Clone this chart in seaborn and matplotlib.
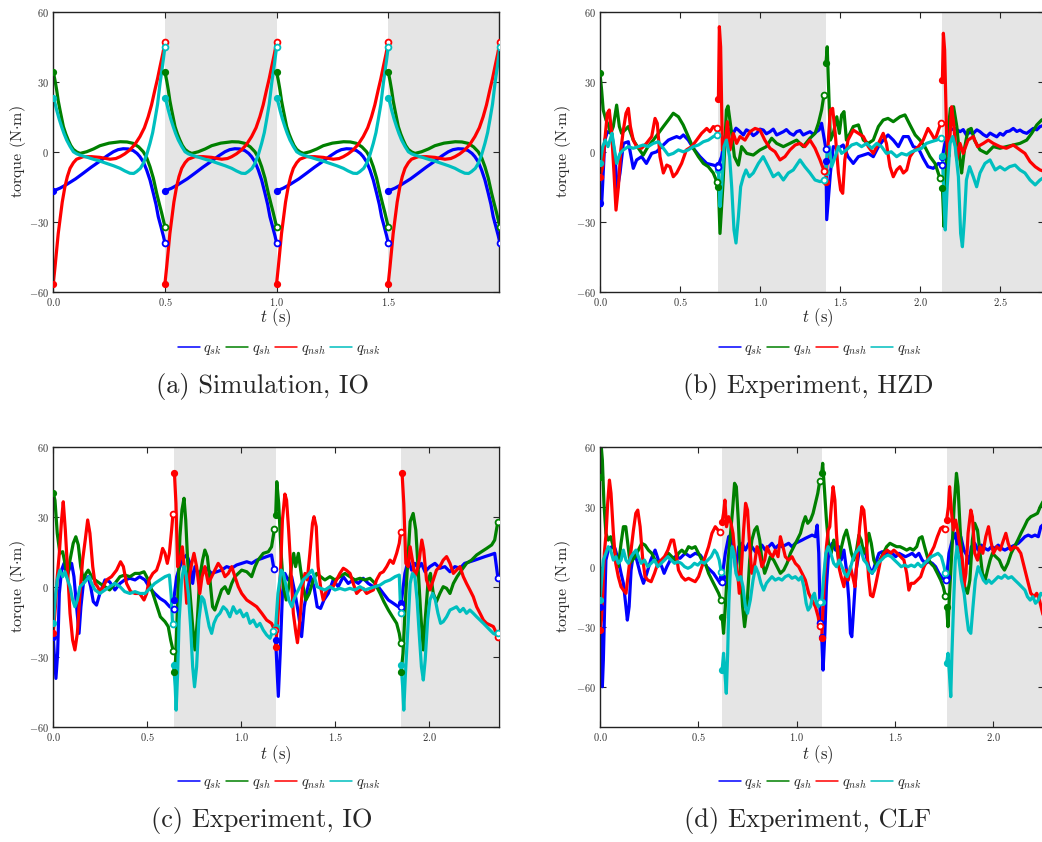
import matplotlib
matplotlib.use("Agg")
import matplotlib.pyplot as plt
from matplotlib.lines import Line2D
from matplotlib.ticker import FuncFormatter
import seaborn as sns
import pandas as pd

# joints, legend labels and colours
joints = ["sk", "sh", "nsh", "nsk"]
joint_labels = [r"$q_{sk}$", r"$q_{sh}$", r"$q_{nsh}$", r"$q_{nsk}$"]
joint_colors = ["#0000ff", "#008000", "#ff0000", "#00bfbf"]

captions = ["(a) Simulation, IO", "(b) Experiment, HZD", "(c) Experiment, IO", "(d) Experiment, CLF"]

# step boundaries (s) of every panel
a_bounds = [0.0, 0.5, 1.0, 1.5, 2.0]
b_bounds = [0.0, 0.74, 1.4125, 2.14, 2.78]
c_bounds = [0.0, 0.641, 1.184, 1.852, 2.367]
d_bounds = [0.0, 0.621, 1.127, 1.762, 2.26]

# (a) simulation: one step (t from step start, torque), repeated each step
a_sk = [(0, -16.7), (.03, -15.5), (.06, -13.9), (.1, -11.5), (.134, -9.1), (.17, -6.5), (.209, -3.9), (.24, -1.7),
        (.269, 0.1), (.29, 1.0), (.313, 1.4), (.336, 1.3), (.358, 0.6), (.375, -0.6), (.388, -2), (.403, -4.2),
        (.418, -7.7), (.433, -12), (.448, -17.7), (.46, -22.5), (.47, -27.7), (.482, -32), (.493, -36), (.5, -39)]
a_sh = [(0, 34.3), (.008, 30.5), (.015, 26.6), (.022, 22), (.03, 18), (.045, 10.9), (.056, 7.7), (.067, 5.1),
        (.078, 2.8), (.09, 1.1), (.105, 0.0), (.12, -0.6), (.149, 0.1), (.18, 1.3), (.209, 2.7), (.25, 3.8),
        (.3, 4.4), (.33, 4.3), (.358, 3.7), (.382, 2.2), (.403, 0.1), (.418, -2.4), (.433, -6.3), (.448, -11.2),
        (.463, -17.7), (.475, -22.3), (.485, -26), (.5, -32.1)]
a_nsh = [(0, -56.4), (.008, -49), (.015, -42), (.022, -35), (.03, -29), (.04, -21.5), (.052, -14.9), (.063, -10.5),
         (.075, -7), (.09, -4.6), (.104, -3.1), (.134, -2), (.17, -2.0), (.209, -2.3), (.254, -3.1), (.28, -2.8),
         (.299, -2), (.32, -0.8), (.343, 0.9), (.365, 3.2), (.388, 6.6), (.408, 10.4), (.425, 15.1), (.44, 20.2),
         (.455, 26.6), (.467, 31.5), (.478, 36.6), (.49, 42), (.5, 47.1)]
a_nsk = [(0, 23.3), (.008, 20.8), (.015, 18), (.026, 14.2), (.037, 10.9), (.048, 7.9), (.06, 5.1), (.075, 2.4),
         (.09, 0.1), (.105, -0.8), (.119, -1.3), (.15, -2.2), (.179, -3.1), (.209, -3.9), (.239, -4.9),
         (.27, -5.9), (.299, -7), (.32, -8.1), (.343, -9.1), (.36, -9.2), (.373, -8.4), (.39, -7.0), (.403, -4.9),
         (.418, -1.2), (.433, 3.7), (.445, 8.3), (.455, 13.7), (.467, 20.5), (.478, 29.4), (.49, 37.5), (.5, 45.1)]

# (b) experiment, HZD: one list of (t, torque) per step
b_sk = [
    [(0, -22), (.01, -23), (.03, 5), (.046, 8.7), (.073, 8), (.094, -2), (.108, -16), (.125, -9), (.146, 3.7),
     (.177, 4.4), (.208, -7), (.229, -3.4), (.26, -2), (.29, -4.9), (.323, -.6), (.354, .1), (.385, 2.3),
     (.427, 5.1), (.45, 5.8), (.479, 6.6), (.5, 6.0), (.521, 7.3), (.552, 5.1), (.583, 1.6), (.625, -2),
     (.667, -4.9), (.708, -5.6), (.74, -6.3)],
    [(.74, -5.6), (.76, -2), (.781, 6.6), (.802, 10.1), (.833, 8), (.85, 10.2), (.865, 9.4), (.896, 7.3),
     (.915, 9.5), (.9375, 8.7), (.958, 7.0), (.979, 8), (1.0, 9.8), (1.021, 9.4), (1.04, 7.8), (1.0625, 8.7),
     (1.083, 9.8), (1.104, 7.3), (1.125, 8.0), (1.146, 8.7), (1.165, 9.6), (1.1875, 8), (1.21, 7.2),
     (1.229, 8.7), (1.25, 9.2), (1.27, 7.3), (1.29, 8.0), (1.3125, 8.7), (1.333, 7.6), (1.354, 8.7),
     (1.37, 9.5), (1.385, 12.3), (1.4125, 1.1)],
    [(1.4125, -3.9), (1.417, -29), (1.44, -9), (1.458, 2.3), (1.49, 1.6), (1.52, 3), (1.55, -2), (1.583, -4.9),
     (1.615, -2), (1.646, -1.3), (1.677, -.6), (1.708, -2), (1.74, 2.3), (1.77, 5.1), (1.8, 7.3), (1.833, 5.1),
     (1.865, 2.3), (1.896, 6.6), (1.927, 6.6), (1.958, 2.3), (1.99, 1.6), (2.02, -2.7), (2.05, -6.3),
     (2.083, -7), (2.115, -4.9), (2.14, -5.6)],
    [(2.14, -2), (2.156, 3.7), (2.1875, 9.4), (2.22, 10.1), (2.25, 8.7), (2.27, 9.6), (2.29, 7.3), (2.31, 8.4),
     (2.333, 8), (2.355, 9.5), (2.375, 8.7), (2.395, 7.5), (2.417, 6.6), (2.438, 8.1), (2.458, 7.3),
     (2.48, 6.5), (2.5, 8), (2.52, 7.2), (2.54, 8.7), (2.56, 9.0), (2.583, 10.1), (2.605, 8.8), (2.625, 9.4),
     (2.645, 8.5), (2.667, 8), (2.69, 9.2), (2.708, 10.1), (2.73, 9.5), (2.75, 10.9), (2.78, 11.6)],
]
b_sh = [
    [(0, 33.7), (.01, 26.6), (.02, 18), (.0375, 13.7), (.052, 11.6), (.067, 8), (.083, 10.9), (.104, 20.1),
     (.121, 10.9), (.135, 8), (.156, 9.4), (.177, 10.9), (.208, 5.1), (.24, 1.6), (.27, -1.3), (.3, 2.3),
     (.333, 5.1), (.365, 8), (.396, 10.9), (.427, 13.7), (.458, 16.6), (.49, 15.1), (.52, 11.6), (.552, 6.6),
     (.583, 1.6), (.615, -2), (.646, -4.9), (.677, -6.3), (.708, -9), (.73, -12.7)],
    [(.74, -14.9), (.75, -34.9), (.77, -12), (.79, 18), (.8, 19.7), (.823, 8), (.84, -2), (.865, -5.6),
     (.885, 2.3), (.917, -.6), (.958, -1.3), (1.0, .9), (1.04, 2.3), (1.073, 5.9), (1.104, 3.7), (1.146, 2.3),
     (1.1875, 3.7), (1.229, 5.1), (1.27, 2.3), (1.3125, 5.9), (1.344, 8), (1.365, 12.3), (1.385, 18),
     (1.4, 24.6)],
    [(1.4125, 38), (1.42, 45.1), (1.43, 25), (1.44, 5.1), (1.458, 8), (1.48, 15.1), (1.496, 8), (1.51, 15.9),
     (1.525, 17.3), (1.54, 5.1), (1.5625, 8), (1.583, 10.9), (1.615, 11.6), (1.646, 5.1), (1.677, 3.7),
     (1.708, 5.1), (1.74, 10.9), (1.77, 13.7), (1.8, 14.4), (1.833, 13), (1.875, 15.1), (1.906, 15.9),
     (1.9375, 11.6), (1.97, 7.3), (2.0, 5.1), (2.03, 2.3), (2.0625, -2), (2.094, -4.9), (2.125, -11.3)],
    [(2.14, -15.3), (2.15, -32), (2.16, -12), (2.17, 5.1), (2.19, 18.7), (2.21, 19.4), (2.23, 10.9),
     (2.25, -3.4), (2.26, -9), (2.28, 2.3), (2.3, 9.4), (2.32, 10.1), (2.34, 5.1), (2.375, .9), (2.417, -.6),
     (2.458, 2.3), (2.5, 1.6), (2.54, 2.3), (2.583, 3), (2.625, 3.7), (2.667, 5.1), (2.698, 8), (2.73, 11.6),
     (2.76, 13.7), (2.78, 14.4)],
]
b_nsh = [
    [(0, -10.6), (.017, -6.3), (.03, 5.1), (.046, 16.6), (.058, 18), (.073, 8), (.0875, -9), (.1, -24.9),
     (.115, -14.9), (.13, .9), (.146, 9.4), (.1625, 16.6), (.177, 18.7), (.19, 10.9), (.208, 5.1), (.229, 2.3),
     (.26, 1.6), (.29, 3.7), (.323, 6.6), (.344, 14.4), (.358, 12.3), (.375, -2), (.396, -9), (.417, -5.6),
     (.4375, -6.3), (.458, -10.6), (.479, -9), (.51, -4.9), (.54, .9), (.573, 2.3), (.604, 5.1), (.635, 8),
     (.667, 10.1), (.6875, 8.7), (.708, 10.9), (.733, 10.1)],
    [(.74, 22.6), (.746, 53.7), (.754, 45), (.765, .9), (.78, 2.3), (.796, 13), (.8125, .9), (.833, 8),
     (.854, 3.7), (.875, 6.6), (.906, 5.1), (.9375, 8.7), (.969, 10.1), (1.0, 9.4), (1.03, 5.1), (1.0625, 1.6),
     (1.094, .1), (1.125, -3.4), (1.156, -2), (1.1875, .9), (1.22, 3), (1.25, 3.7), (1.28, 2.3), (1.3125, 5.1),
     (1.344, 1.6), (1.375, -3.4), (1.4, -8)],
    [(1.4125, -13), (1.43, 8), (1.44, 18), (1.454, 18.7), (1.47, 8), (1.49, -9), (1.504, -16.3), (1.517, -17.7),
     (1.53, -3.4), (1.55, 5.1), (1.583, 9.4), (1.615, 8), (1.646, 6.6), (1.677, 2.3), (1.708, -.6), (1.74, 3.7),
     (1.77, 8), (1.79, 3.7), (1.8125, -6.3), (1.833, -10.6), (1.854, -7.7), (1.875, -6.3), (1.896, -9),
     (1.917, -7.7), (1.9375, -2), (1.958, .1), (1.99, 2.3), (2.02, 5.1), (2.05, 10.1), (2.07, 8), (2.094, 5.1),
     (2.115, 9.4), (2.13, 12.3)],
    [(2.14, 30.9), (2.146, 50.9), (2.154, 43.7), (2.167, 5.1), (2.18, -2), (2.198, 19.4), (2.21, 12.3),
     (2.23, -3.4), (2.25, 3.7), (2.27, -.6), (2.3, 5.1), (2.333, 6.6), (2.36, 2.3), (2.396, 3.7), (2.427, 5.1),
     (2.458, 3.7), (2.5, 2.3), (2.54, 1.6), (2.583, 3), (2.625, .9), (2.656, -.6), (2.6875, -4.1), (2.72, -6.3),
     (2.75, -7.7), (2.78, -8.4)],
]
b_nsk = [
    [(0, -4.9), (.017, 2.3), (.033, 5.1), (.05, 2.3), (.0625, 5.1), (.075, 8), (.0875, 2.3), (.104, -4.9),
     (.125, -.6), (.146, .9), (.177, 2.3), (.208, 1.6), (.24, 2.3), (.27, 3), (.3, 2.3), (.333, 3.7),
     (.365, 4.4), (.396, 1.6), (.427, -1.3), (.458, -.6), (.49, .9), (.52, .1), (.552, .9), (.583, 2.3),
     (.615, 3), (.646, 4.4), (.677, 5.1), (.708, 6.6), (.733, 7.5)],
    [(.74, -7.7), (.75, -23.4), (.76, -14.9), (.775, 2.3), (.79, 5.1), (.81, -2), (.823, -14.9), (.8375, -33.4),
     (.85, -39), (.865, -27.7), (.879, -14.9), (.896, -10.6), (.9125, -7.7), (.933, -10.6), (.958, -9),
     (.99, -4.9), (1.02, -2), (1.052, -6.3), (1.083, -10.6), (1.115, -9), (1.146, -12), (1.177, -9),
     (1.208, -7.7), (1.25, -3.4), (1.28, -6.3), (1.3125, -9), (1.344, -12), (1.375, -12.7), (1.4, -12)],
    [(1.4125, -8.4), (1.42, .9), (1.433, 2.3), (1.448, -6.3), (1.47, -2), (1.49, 2.3), (1.51, -.6), (1.54, .9),
     (1.573, 3), (1.604, 3.7), (1.635, 2.3), (1.667, 3.7), (1.698, 1.6), (1.73, 3.7), (1.76, 2.3), (1.79, -.6),
     (1.82, .1), (1.854, -2), (1.885, -.6), (1.917, -1.3), (1.948, .1), (1.98, .9), (2.01, 1.6), (2.04, 3.7),
     (2.07, 4.4), (2.104, 5.1), (2.13, 6.0)],
    [(2.14, -1.7), (2.15, -20.6), (2.158, -33.4), (2.17, -14.9), (2.1875, 3.7), (2.204, 6.6), (2.22, 2.3),
     (2.24, -10.6), (2.254, -34.9), (2.265, -40.6), (2.277, -29.1), (2.29, -12), (2.31, -6.3), (2.333, -10.6),
     (2.354, -14.9), (2.375, -9), (2.406, -4.9), (2.4375, -3.4), (2.47, -7.7), (2.5, -6.3), (2.53, -7.7),
     (2.56, -6.3), (2.594, -5.6), (2.625, -7.7), (2.656, -9), (2.6875, -12), (2.72, -14.1), (2.75, -12),
     (2.78, -10.6)],
]

# (c) experiment, IO
c_sk = [
    [(0, -21.4), (.005, -28.6), (.014, -39.3), (.023, -28.6), (.032, -2.9), (.044, 7.1), (.057, 10), (.071, 4.3),
     (.083, 7.1), (.0975, 10), (.11, 4.3), (.124, -8.6), (.137, -20), (.147, -8.6), (.16, 1.4), (.174, 2.9),
     (.186, 4.3), (.199, 0), (.213, -6.4), (.23, -7.9), (.248, -2.9), (.275, 2.9), (.3, 2.1), (.328, -1.4),
     (.355, 1.4), (.38, 2.9), (.408, 3.6), (.435, 2.9), (.46, 4.3), (.488, 2.9), (.515, -.7), (.54, -2.9),
     (.568, -5), (.595, -6.4), (.62, -8.6), (.641, -9.6)],
    [(.641, -5.7), (.657, 4.3), (.674, 8.6), (.692, 12.1), (.71, 13.6), (.728, 10), (.742, 1.4), (.754, 8.6),
     (.772, 5.7), (.79, 7.1), (.816, 7.9), (.843, 5.7), (.87, 6.4), (.896, 7.1), (.923, 8.6), (.95, 7.9),
     (.976, 9.3), (1.003, 10), (1.03, 10.7), (1.056, 10), (1.083, 11.4), (1.11, 12.1), (1.136, 12.9),
     (1.162, 13.6), (1.175, 7.4)],
    [(1.184, -22.9), (1.198, -47), (1.208, -28.6), (1.22, -2.9), (1.233, 5.7), (1.25, 2.9), (1.269, 4.3),
     (1.287, -2.9), (1.305, -11.4), (1.322, -21.4), (1.336, -8.6), (1.352, -1.4), (1.37, 4.3), (1.388, 0),
     (1.405, -8.6), (1.423, -9.3), (1.441, -5.7), (1.464, -2.9), (1.49, 2.9), (1.517, 0), (1.544, 4.3),
     (1.57, 1.4), (1.597, 2.9), (1.624, 1.4), (1.65, 3.6), (1.677, 1.4), (1.704, 0), (1.73, 0), (1.757, -2.9),
     (1.784, -5.7), (1.81, -7.1), (1.837, -8.6), (1.852, -8.6)],
    [(1.852, -7.1), (1.872, 5.7), (1.89, 11.4), (1.908, 7.1), (1.925, 10), (1.943, 7.9), (1.96, 10),
     (1.979, 6.4), (2.005, 8.6), (2.032, 10), (2.058, 7.9), (2.085, 8.6), (2.112, 6.4), (2.138, 8.6),
     (2.165, 7.9), (2.19, 10), (2.218, 10.7), (2.245, 11.4), (2.27, 12.1), (2.298, 12.9), (2.325, 13.6),
     (2.35, 14.3), (2.367, 3.9)],
]
c_sh = [
    [(0, 40), (.009, 37), (.021, 22.9), (.035, 14.3), (.05, 15), (.062, 10), (.076, 4.3), (.089, 11.4),
     (.106, 18.6), (.12, 21.4), (.133, 17.9), (.146, 8.6), (.16, 2.9), (.174, 5.7), (.186, 7.1), (.204, 4.3),
     (.222, 2.9), (.248, 1.4), (.275, 0), (.3, -1.4), (.328, 1.4), (.355, 4.3), (.38, 5), (.408, 4.3),
     (.435, 5.7), (.46, 5.7), (.483, 6.4), (.506, 2.9), (.53, -2.9), (.55, -7.9), (.57, -12.9), (.595, -15),
     (.612, -17.1), (.625, -22.9), (.638, -27.4)],
    [(.641, -36.4), (.651, -31.4), (.662, -7.1), (.674, 21.4), (.685, 32.9), (.696, 37.9), (.705, 28.6),
     (.715, 11.4), (.728, -2.9), (.742, -17.1), (.754, -27.1), (.767, -14.3), (.78, 4.3), (.795, 11.4),
     (.807, 15.7), (.82, 12.9), (.834, 2.9), (.848, -8.6), (.86, -10), (.878, -5.7), (.896, -1.4), (.914, 0),
     (.932, -2.9), (.95, 1.4), (.967, 4.3), (.985, 5.7), (1.003, 7.1), (1.03, 6.4), (1.056, 4.3), (1.074, 8.6),
     (1.09, 11.4), (1.118, 14.3), (1.145, 15), (1.162, 17.1), (1.177, 24.6)],
    [(1.184, 30.7), (1.19, 45), (1.2, 35.7), (1.213, 14.3), (1.225, 0), (1.24, -5.7), (1.254, 0), (1.27, 10),
     (1.28, 14.3), (1.29, 8.6), (1.305, 14.3), (1.317, 7.1), (1.33, 0), (1.345, -5.7), (1.363, -2.9),
     (1.384, 2.9), (1.402, 5.7), (1.423, 4.3), (1.446, 2.9), (1.473, 4.3), (1.5, 2.9), (1.526, 4.3),
     (1.553, 5.7), (1.579, 4.3), (1.606, 2.9), (1.633, 3.6), (1.66, 2.9), (1.686, 3.6), (1.713, 1.4),
     (1.74, -2.9), (1.76, -6.4), (1.784, -10), (1.806, -12.9), (1.828, -15.7), (1.842, -20), (1.85, -24)],
    [(1.852, -36.4), (1.862, -28.6), (1.877, -2.9), (1.89, 14.3), (1.9, 27.9), (1.916, 31.4), (1.93, 24.3),
     (1.943, 7.1), (1.956, -11.4), (1.97, -27.1), (1.98, -14.3), (1.996, 2.9), (2.008, 5.7), (2.023, -2.9),
     (2.04, -6.4), (2.058, -2.9), (2.076, 0), (2.094, -.7), (2.112, -2.9), (2.13, 1.4), (2.15, 4.3),
     (2.174, 7.1), (2.2, 10), (2.227, 11.4), (2.254, 13.6), (2.28, 15), (2.307, 16.4), (2.334, 17.9),
     (2.35, 20), (2.367, 27.9)],
]
c_nsh = [
    [(0, -20), (.011, -8.6), (.021, 4.3), (.032, 14.3), (.044, 28.6), (.053, 36.4), (.064, 24.3), (.076, 7.1),
     (.089, -11.4), (.103, -22.9), (.115, -27.1), (.128, -20), (.142, -2.9), (.156, 11.4), (.17, 20),
     (.183, 28.6), (.195, 22.9), (.21, 8.6), (.222, 1.4), (.236, 0), (.248, -2.1), (.266, 0), (.284, 2.9),
     (.31, 4.3), (.337, 7.1), (.358, 10.7), (.373, 8.6), (.39, 1.4), (.412, -2.1), (.435, -2.9), (.46, -2.9),
     (.483, -5.7), (.497, -2.9), (.51, 2.9), (.53, 5.7), (.55, 7.1), (.568, 11.4), (.582, 16.4), (.595, 14.3),
     (.607, 10), (.618, 14.3), (.63, 24.3), (.637, 31.1)],
    [(.645, 48.6), (.653, 35.7), (.662, 8.6), (.674, 11.4), (.687, 17.1), (.7, 5.7), (.71, -7.1), (.724, 4.3),
     (.737, 10), (.749, 14.3), (.763, 8.6), (.78, -2.9), (.792, 4.3), (.807, 8.6), (.825, 1.4), (.843, 4.3),
     (.86, 7.1), (.878, 10), (.896, 7.9), (.914, 4.3), (.932, 5.7), (.95, 8.6), (.967, 4.3), (.985, 0),
     (1.003, -2.9), (1.03, -5.7), (1.056, -7.1), (1.083, -8.6), (1.11, -11.4), (1.136, -14.3), (1.162, -15.7),
     (1.178, -18.6)],
    [(1.184, -25.7), (1.195, -14.3), (1.21, 7.1), (1.22, 28.6), (1.233, 39.7), (1.242, 37.1), (1.253, 24.3),
     (1.265, 7.1), (1.278, -11.4), (1.292, -20), (1.3, -24), (1.313, -14.3), (1.327, 0), (1.34, 5.7),
     (1.352, 2.9), (1.366, 14.3), (1.38, 27.1), (1.388, 30), (1.4, 25.7), (1.41, 8.6), (1.423, 0),
     (1.437, -5.7), (1.455, -1.4), (1.473, 0), (1.49, 0), (1.508, 2.9), (1.526, 5.7), (1.544, 7.9),
     (1.56, 7.1), (1.58, 5.7), (1.597, 1.4), (1.615, -2.9), (1.633, -1.4), (1.65, -.7), (1.668, -2.9),
     (1.686, -2.1), (1.704, -1.4), (1.721, 2.9), (1.74, 5.7), (1.757, 6.4), (1.775, 8.6), (1.793, 11.4),
     (1.81, 10), (1.828, 14.3), (1.842, 18.6), (1.85, 23.6)],
    [(1.857, 48.6), (1.866, 35.7), (1.877, 10), (1.89, 8.6), (1.9, 17.1), (1.912, 11.4), (1.925, 4.3),
     (1.937, 7.1), (1.948, 11.4), (1.962, 20), (1.972, 15.7), (1.987, 2.9), (2.005, -1.4), (2.023, 2.9),
     (2.04, 7.1), (2.058, 8.6), (2.076, 11.4), (2.094, 12.9), (2.112, 10), (2.13, 5.7), (2.147, 7.1),
     (2.165, 8.6), (2.183, 4.3), (2.2, 1.4), (2.218, -1.4), (2.236, -4.3), (2.254, -8.6), (2.272, -11.4),
     (2.29, -14.3), (2.307, -15.7), (2.325, -16.4), (2.343, -17.1), (2.36, -20), (2.367, -21.4)],
]
c_nsk = [
    [(0, -15.7), (.011, -4.3), (.021, 2.9), (.035, 7.1), (.05, 4.3), (.062, 6.4), (.076, 2.9), (.089, 0),
     (.103, -5.7), (.115, -8.6), (.128, -5.7), (.142, 0), (.16, 1.4), (.177, 2.9), (.192, 4.3), (.204, 1.4),
     (.222, -1.4), (.248, -2.9), (.275, -1.4), (.3, 0), (.328, 1.4), (.355, 0), (.38, -2.1), (.408, -2.9),
     (.435, -2.1), (.46, -2.9), (.488, -2.9), (.515, -.7), (.54, 1.4), (.568, 2.9), (.595, 4.3), (.618, 5),
     (.628, -4.3), (.635, -16)],
    [(.641, -33.6), (.649, -42.9), (.654, -52.9), (.662, -37.1), (.67, -14.3), (.683, 2.9), (.696, 8.6),
     (.706, 5.7), (.719, -2.9), (.731, -17.1), (.742, -34.3), (.752, -42.9), (.763, -34.3), (.775, -14.3),
     (.79, -4.3), (.802, -5.7), (.816, -11.4), (.83, -17.1), (.843, -20), (.855, -15.7), (.87, -12.9),
     (.887, -11.4), (.905, -8.6), (.923, -10), (.94, -12.9), (.958, -8.6), (.976, -11.4), (.994, -10),
     (1.012, -12.9), (1.03, -11.4), (1.047, -15.7), (1.065, -14.3), (1.083, -17.1), (1.1, -15.7),
     (1.118, -18.6), (1.136, -20.7), (1.154, -22.1), (1.168, -19)],
    [(1.184, -17.1), (1.196, -2.9), (1.213, 7.1), (1.225, 5.7), (1.24, 0), (1.254, -5.7), (1.27, -8.6),
     (1.28, -5.7), (1.295, -2.9), (1.313, 0), (1.33, 2.9), (1.349, 4.3), (1.363, 5.7), (1.377, 7.1),
     (1.39, 4.3), (1.405, 0), (1.423, -.7), (1.446, -1.4), (1.473, 0), (1.5, -1.4), (1.526, -.7), (1.553, -1.4),
     (1.579, -.7), (1.606, -1.4), (1.633, 0), (1.66, -1.4), (1.686, -.7), (1.713, 0), (1.74, .7), (1.766, 2.1),
     (1.793, 2.9), (1.82, 4.3), (1.842, 5), (1.85, -11.4)],
    [(1.852, -33.6), (1.86, -42.9), (1.866, -52.9), (1.875, -37.1), (1.89, -14.3), (1.9, 1.4), (1.912, 5.7),
     (1.925, 4.3), (1.937, -5.7), (1.948, -20), (1.96, -34.3), (1.97, -40), (1.98, -31.4), (1.993, -14.3),
     (2.005, -5.7), (2.02, -2.9), (2.034, -5.7), (2.048, -11.4), (2.062, -15.7), (2.076, -15), (2.094, -12.9),
     (2.112, -10), (2.13, -9.3), (2.147, -8.6), (2.165, -10.7), (2.183, -9.3), (2.2, -11.4), (2.218, -10),
     (2.236, -11.4), (2.254, -12.9), (2.272, -14.3), (2.29, -15.7), (2.307, -17.1), (2.325, -18.6),
     (2.343, -20), (2.36, -20.7), (2.367, -20)],
]

# (d) experiment, CLF
d_sk = [
    [(0, -20), (.007, -43), (.012, -60), (.017, -46.7), (.024, -18.3), (.03, 3.3), (.042, 8.3), (.06, 10),
     (.076, 9.2), (.093, 3.3), (.107, -3.3), (.119, -8.3), (.132, -20), (.139, -26.7), (.148, -20),
     (.158, -1.7), (.17, 6.7), (.187, 3.3), (.204, -3.3), (.221, -8.3), (.238, -3.3), (.258, 3.3), (.28, 8.3),
     (.297, 3.3), (.314, 0), (.326, -3.3), (.34, 0), (.357, 3.3), (.382, 5), (.407, 4.2), (.433, 6.7),
     (.458, 5), (.484, 6.7), (.51, 5.8), (.526, 3.3), (.543, 0), (.56, -1.7), (.577, -3.3), (.594, -5.8),
     (.611, -8.3), (.62, -7.5)],
    [(.621, -5), (.637, 6.7), (.654, 15), (.666, 15.8), (.68, 8.3), (.69, -1.7), (.705, 10), (.722, 11.7),
     (.739, 8.3), (.756, 11.7), (.772, 10), (.79, 7.5), (.806, 9.2), (.823, 10.8), (.84, 8.3), (.857, 10),
     (.874, 11.7), (.891, 9.2), (.908, 10.8), (.925, 10), (.942, 10.8), (.959, 11.7), (.976, 10),
     (.993, 11.7), (1.01, 12.5), (1.027, 13.3), (1.044, 14.2), (1.061, 15), (1.078, 15.8), (1.095, 15),
     (1.104, 20.8), (1.112, 6.7), (1.12, -28.3)],
    [(1.127, -35), (1.134, -51.7), (1.143, -33.3), (1.151, -10), (1.163, 8.3), (1.18, 11.7), (1.197, 8.3),
     (1.214, 10), (1.226, 3.3), (1.24, 8.3), (1.253, -1.7), (1.265, -16.7), (1.273, -33.3), (1.28, -35),
     (1.29, -20), (1.302, -1.7), (1.316, 6.7), (1.333, 9.2), (1.35, 6.7), (1.367, 0), (1.384, -3.3), (1.4, 1.7),
     (1.418, 6.7), (1.435, 7.5), (1.452, 5.8), (1.469, 7.5), (1.486, 6.7), (1.503, 5), (1.52, 6.7),
     (1.537, 5.8), (1.553, 5), (1.57, 5.8), (1.587, 6.7), (1.604, 5), (1.621, 6.7), (1.638, 3.3), (1.655, 1.7),
     (1.672, 2.5), (1.689, 1.7), (1.706, 0), (1.723, -3.3), (1.74, -5.8), (1.757, -6.7)],
    [(1.762, -5), (1.774, 6.7), (1.791, 13.3), (1.808, 16.7), (1.82, 6.7), (1.834, 15), (1.85, 8.3),
     (1.868, 5), (1.876, 1.7), (1.888, 10), (1.905, 11.7), (1.922, 8.3), (1.939, 10.8), (1.956, 9.2),
     (1.973, 8.3), (1.99, 10), (2.007, 9.2), (2.024, 10.8), (2.041, 9.2), (2.058, 8.3), (2.075, 9.2),
     (2.092, 10), (2.109, 10.8), (2.126, 11.7), (2.143, 13.3), (2.16, 15), (2.177, 15.8), (2.194, 15),
     (2.211, 15.8), (2.228, 15), (2.241, 20), (2.26, 21.7)],
]
d_sh = [
    [(0, 45), (.005, 61.7), (.012, 53.3), (.02, 31.7), (.03, 16.7), (.042, 13.3), (.054, 15), (.068, 10),
     (.081, 5), (.093, 0), (.107, 11.7), (.119, 20), (.131, 20), (.141, 11.7), (.153, 1.7), (.165, 3.3),
     (.178, 5), (.195, 8.3), (.212, 11.7), (.229, 10.8), (.246, 8.3), (.263, 6.7), (.28, 3.3), (.297, 1.7),
     (.314, 3.3), (.331, 5), (.348, 6.7), (.365, 5), (.382, 3.3), (.399, 6.7), (.416, 8.3), (.433, 6.7),
     (.45, 10), (.467, 9.2), (.484, 10), (.501, 6.7), (.518, 3.3), (.535, 1.7), (.552, -3.3), (.569, -6.7),
     (.586, -10), (.603, -13.3), (.616, -16.7)],
    [(.621, -25), (.628, -33.3), (.637, -20), (.649, 0), (.662, 15), (.674, 28.3), (.684, 41.7), (.693, 40),
     (.703, 23.3), (.713, 0), (.725, -20), (.735, -30), (.747, -20), (.761, 3.3), (.772, 13.3), (.786, 18.3),
     (.798, 20), (.812, 13.3), (.823, 3.3), (.837, -3.3), (.849, 0), (.866, 5), (.883, 3.3), (.9, 0),
     (.917, -3.3), (.934, -1.7), (.951, 1.7), (.968, 6.7), (.985, 10), (1.002, 13.3), (1.019, 16.7),
     (1.032, 21.7), (1.044, 25), (1.056, 21.7), (1.07, 23.3), (1.083, 26.7), (1.095, 31.7), (1.107, 36.7),
     (1.117, 42.8)],
    [(1.127, 46.7), (1.132, 51.7), (1.14, 40), (1.151, 23.3), (1.163, 10), (1.175, 6.7), (1.188, 13.3),
     (1.202, 10), (1.214, 3.3), (1.228, 10), (1.24, 15), (1.253, 18.3), (1.265, 13.3), (1.278, 6.7),
     (1.29, 3.3), (1.304, 8.3), (1.316, 15.8), (1.328, 13.3), (1.341, 6.7), (1.355, 10), (1.367, 16.7),
     (1.379, 11.7), (1.392, 3.3), (1.406, 0), (1.423, 3.3), (1.44, 6.7), (1.457, 10), (1.474, 11.7),
     (1.491, 10.8), (1.508, 10), (1.525, 10), (1.542, 9.2), (1.559, 8.3), (1.576, 9.2), (1.593, 8.3),
     (1.61, 10), (1.623, 14.2), (1.637, 15), (1.65, 10), (1.664, 5), (1.681, 1.7), (1.698, 0), (1.715, -3.3),
     (1.732, -6.7), (1.745, -10), (1.756, -14.7)],
    [(1.762, -20), (1.769, -30), (1.777, -13.3), (1.79, 10), (1.8, 30), (1.812, 46.7), (1.82, 40), (1.83, 20),
     (1.842, 0), (1.854, -10), (1.868, -13.3), (1.88, -6.7), (1.893, 13.3), (1.905, 21.7), (1.919, 18.3),
     (1.932, 6.7), (1.944, -3.3), (1.958, -6.7), (1.97, -1.7), (1.983, 3.3), (1.995, 6.7), (2.012, 5),
     (2.03, 3.3), (2.044, 0), (2.056, -1.7), (2.073, 1.7), (2.09, 6.7), (2.107, 10), (2.124, 13.3),
     (2.14, 16.7), (2.157, 20), (2.173, 23.3), (2.19, 25), (2.207, 25.8), (2.224, 26.7), (2.238, 30),
     (2.26, 34)],
]
d_nsh = [
    [(0, -31.7), (.007, -26.7), (.014, -13.3), (.022, 6.7), (.031, 16.7), (.039, 31.7), (.048, 43.3),
     (.056, 36.7), (.068, 16.7), (.08, 1.7), (.093, -5), (.107, -10), (.119, -11.7), (.132, -13.3),
     (.144, -3.3), (.156, 6.7), (.17, 18.3), (.182, 26.7), (.192, 28.3), (.204, 20), (.216, 5), (.229, -5),
     (.243, -6.7), (.26, -7.5), (.277, -3.3), (.294, 1.7), (.311, 3.3), (.328, 5), (.345, 8.3), (.362, 13.3),
     (.374, 13.3), (.387, 6.7), (.399, -1.7), (.416, -5), (.433, -6.7), (.45, -5.8), (.467, -6.7),
     (.484, -7.5), (.501, -5), (.518, 0), (.535, 5), (.552, 10), (.569, 16.7), (.586, 20), (.6, 18.3),
     (.611, 17.5)],
    [(.621, 22.5), (.628, 26.7), (.635, 33.3), (.643, 20), (.654, 25), (.666, 21.7), (.676, 16.7), (.688, 3.3),
     (.7, -3.3), (.708, -13.3), (.718, -1.7), (.73, 18.3), (.74, 31.7), (.75, 28.3), (.761, 10), (.772, -3.3),
     (.784, 0), (.798, 10), (.81, 6.7), (.823, 0), (.837, 3.3), (.849, 10), (.863, 6.7), (.878, 5),
     (.891, 8.3), (.905, 5), (.917, 15), (.93, 10), (.942, 5), (.959, 3.3), (.976, 5), (.993, 1.7), (1.01, 0),
     (1.027, -3.3), (1.044, -6.7), (1.061, -13.3), (1.078, -16.7), (1.095, -20), (1.109, -25),
     (1.117, -29.7)],
    [(1.127, -35.5), (1.134, -20), (1.143, -3.3), (1.151, 10), (1.16, 18.3), (1.168, 20), (1.177, 31.7),
     (1.185, 40), (1.194, 33.3), (1.202, 16.7), (1.214, 0), (1.226, -5), (1.24, -10), (1.251, -1.7),
     (1.262, -6.7), (1.273, 0), (1.285, -5), (1.296, -10), (1.307, 3.3), (1.32, 20), (1.331, 30),
     (1.341, 28.3), (1.353, 15), (1.365, -5), (1.375, -14.2), (1.387, -15), (1.399, -10), (1.413, -3.3),
     (1.426, 3.3), (1.443, 6.7), (1.46, 8.3), (1.477, 6.7), (1.494, 8.3), (1.511, 6.7), (1.528, 5),
     (1.545, 3.3), (1.559, -3.3), (1.57, -11.7), (1.582, -8.3), (1.596, -8.3), (1.613, -6.7), (1.63, -5),
     (1.647, 0), (1.664, 3.3), (1.681, 6.7), (1.698, 10), (1.715, 15), (1.732, 19.2), (1.745, 20),
     (1.756, 19)],
    [(1.762, 23.3), (1.771, 30), (1.777, 40), (1.786, 28.3), (1.796, 18.3), (1.808, 23.3), (1.82, 16.7),
     (1.83, 10), (1.842, 3.3), (1.85, -10), (1.86, -3.3), (1.871, 16.7), (1.885, 28.3), (1.893, 25),
     (1.905, 6.7), (1.919, 3.3), (1.932, 10), (1.946, 6.7), (1.961, 15), (1.975, 20), (1.986, 13.3),
     (2.0, 6.7), (2.017, 10), (2.034, 8.3), (2.051, 13.3), (2.063, 16.7), (2.075, 11.7), (2.088, 8.3),
     (2.105, 10), (2.122, 9.2), (2.139, 6.7), (2.156, 0), (2.173, -6.7), (2.19, -13.3), (2.207, -15),
     (2.22, -13.3), (2.234, -16.7), (2.25, -23.3), (2.26, -26.7)],
]
d_nsk = [
    [(0, -16.7), (.008, -6.7), (.017, 3.3), (.03, 6.7), (.042, 10), (.054, 8.3), (.068, 3.3), (.081, 5),
     (.093, 1.7), (.107, 3.3), (.119, 8.3), (.132, 3.3), (.144, 1.7), (.158, 5), (.17, 6.7), (.183, 8.3),
     (.195, 5), (.209, 1.7), (.226, 3.3), (.243, 0), (.26, 1.7), (.277, 3.3), (.294, 0), (.311, 1.7),
     (.328, 3.3), (.345, 5), (.362, 3.3), (.379, 1.7), (.396, 2.5), (.413, 1.7), (.43, 0), (.447, -.8),
     (.463, 0), (.48, 1.7), (.497, .8), (.514, 2.5), (.531, 1.7), (.548, 3.3), (.565, 5), (.582, 8.3),
     (.594, 6.7), (.606, 3.3), (.616, -2.5)],
    [(.621, -51.7), (.628, -43.3), (.635, -53.3), (.642, -63.3), (.649, -43.3), (.655, -18.3), (.664, 1.7),
     (.672, 10), (.681, 6.7), (.691, -3.3), (.703, -6.7), (.715, -5), (.727, -10), (.739, -20), (.75, -23.3),
     (.764, -16.7), (.778, -6.7), (.791, 0), (.805, -3.3), (.818, -8.3), (.832, -11.7), (.846, -8.3),
     (.859, -6.7), (.874, -5), (.891, -6.7), (.908, -5.8), (.925, -6.7), (.942, -5), (.959, -4.2),
     (.976, -5.8), (.993, -5), (1.01, -6.7), (1.024, -5), (1.036, -10), (1.048, -18.3), (1.058, -21.7),
     (1.07, -20), (1.08, -15), (1.09, -13.3), (1.1, -18.3), (1.11, -20), (1.12, -17.5)],
    [(1.127, -17.5), (1.137, -5), (1.148, 6.7), (1.16, 10), (1.173, 6.7), (1.188, 1.7), (1.202, 0),
     (1.216, 3.3), (1.23, 0), (1.243, -3.3), (1.256, -5), (1.27, -1.7), (1.284, 3.3), (1.297, 6.7),
     (1.311, 8.3), (1.321, 10), (1.331, 6.7), (1.341, 3.3), (1.355, 1.7), (1.368, -1.7), (1.382, -3.3),
     (1.396, -1.7), (1.413, 1.7), (1.43, 3.3), (1.447, 5), (1.464, 5.8), (1.48, 5), (1.497, 3.3), (1.514, 1.7),
     (1.531, 0), (1.548, .8), (1.565, 0), (1.582, .8), (1.599, 0), (1.616, 1.7), (1.633, 0), (1.65, 1.7),
     (1.667, 3.3), (1.684, 5), (1.701, 5.8), (1.718, 6.7), (1.735, 5), (1.749, 0), (1.756, -3.3)],
    [(1.762, -48.3), (1.769, -43.3), (1.776, -53.3), (1.783, -65), (1.789, -43.3), (1.798, -16.7),
     (1.806, 3.3), (1.815, 10), (1.825, 3.3), (1.837, -6.7), (1.851, -13.3), (1.862, -23.3), (1.873, -31.7),
     (1.885, -33.3), (1.896, -20), (1.908, -6.7), (1.922, 0), (1.935, -3.3), (1.949, -6.7), (1.963, -8.3),
     (1.976, -6.7), (1.99, -8.3), (2.007, -6.7), (2.024, -5), (2.041, -5.8), (2.058, -4.2), (2.075, -5.8),
     (2.092, -5), (2.109, -6.7), (2.126, -8.3), (2.143, -10), (2.16, -11.7), (2.173, -15), (2.187, -16.7),
     (2.2, -15), (2.214, -18.3), (2.228, -16.7), (2.241, -13.3), (2.26, -15)],
]

sns.set_style("ticks")
plt.rcParams["font.family"] = ["cmr10", "DejaVu Serif"]
plt.rcParams["mathtext.fontset"] = "cm"
plt.rcParams["axes.formatter.use_mathtext"] = True


def frame(series):
    rows = []
    for joint, steps in zip(joints, series):
        for k, step in enumerate(steps):
            for t, v in step:
                rows.append((joint, k, t, v))
    return pd.DataFrame(rows, columns=["joint", "step", "t", "torque"])


def tile(period, bounds):
    # simulation repeats the same step shape each step
    return [[(lo + t, v) for t, v in period] for lo in bounds[:-1]]


def draw(ax, df, bounds, xlim, ylim, close_last):
    for lo, hi in zip(bounds[1::2], bounds[2::2] + [xlim[1] + 1]):
        ax.axvspan(lo, hi, color="#e5e5e5", lw=0, zorder=0)
    sns.lineplot(data=df, x="t", y="torque", hue="joint", units="step", estimator=None, sort=False,
                 hue_order=joints, palette=dict(zip(joints, joint_colors)), lw=2.3, legend=False, ax=ax)
    n_steps = len(bounds) - 1
    for joint, color in zip(joints, joint_colors):
        g = df[df.joint == joint].groupby("step")
        first, last = g.first(), g.last()
        if not close_last:
            last = last[last.index < n_steps - 1]
        ax.plot(first.t, first.torque, "o", ms=4.2, color=color, zorder=5)
        ax.plot(last.t, last.torque, "o", ms=4.2, mfc="white", mec=color, mew=1.3, zorder=6)
    ax.set_xticks([0, 0.5, 1.0, 1.5, 2.0, 2.5])
    ax.set_yticks([-60, -30, 0, 30, 60])
    ax.set_xlim(*xlim)
    ax.set_ylim(*ylim)
    ax.xaxis.set_major_formatter(FuncFormatter(lambda v, p: f"${v:.1f}$"))
    ax.yaxis.set_major_formatter(FuncFormatter(lambda v, p: f"${v:.0f}$"))
    ax.set_xlabel("")
    ax.set_ylabel("")
    ax.tick_params(direction="in", top=True, right=True, length=4, width=0.8, labelsize=7.5,
                   labelcolor="#333333", pad=3)
    for s in ax.spines.values():
        s.set_linewidth(1.0)
        s.set_color("#222222")


W, H = 1042, 842
fig = plt.figure(figsize=(W / 100, H / 100), dpi=100)

panels = [
    (frame([tile(p, a_bounds) for p in (a_sk, a_sh, a_nsh, a_nsk)]), a_bounds, (0, 1.996), (-60, 60), True),
    (frame([b_sk, b_sh, b_nsh, b_nsk]), b_bounds, (0, 2.775), (-60, 60), False),
    (frame([c_sk, c_sh, c_nsh, c_nsk]), c_bounds, (0, 2.373), (-60, 60), True),
    (frame([d_sk, d_sh, d_nsh, d_nsk]), d_bounds, (0, 2.257), (-80, 60), False),
]
# pixel boxes: left, top, right, bottom
boxes = [(53.3, 12, 499, 292), (600, 12, 1044, 292), (53.3, 446.7, 499, 726.7), (600, 446.7, 1044, 726.7)]
# text centres (x of labels, x of caption) and rows (xlabel y, legend y, caption y)
text_x = [(276, 279, 262), (818, 820, 808), (276, 279, 262), (818, 820, 808)]
text_y = [(318, 349, 387), (318, 349, 387), (755, 783, 821), (755, 783, 821)]
ylabel_x = [18, 563, 18, 563]

handles = [Line2D([], [], color=c, lw=1.1) for c in joint_colors]

for i, (df, bounds, xlim, ylim, close_last) in enumerate(panels):
    l, t, r, b = boxes[i]
    ax = fig.add_axes([l / W, 1 - b / H, (r - l) / W, (b - t) / H])
    draw(ax, df, bounds, xlim, ylim, close_last)
    xl, lg, cp = text_x[i]
    yl, yg, yc = text_y[i]
    fig.text(xl / W, 1 - yl / H, r"$t$ (s)", ha="center", va="center", fontsize=12)
    fig.text(ylabel_x[i] / W, 1 - ((t + b) / 2) / H, r"torque (N$\cdot$m)", ha="center", va="center",
             rotation=90, fontsize=11.5)
    fig.legend(handles, joint_labels, loc="center", bbox_to_anchor=(lg / W, 1 - yg / H), ncol=4,
               frameon=False, fontsize=10.5, handlelength=1.5, handletextpad=0.25, columnspacing=0.3,
               borderpad=0)
    fig.text(cp / W, 1 - yc / H, captions[i], ha="center", va="center", fontsize=19)

fig.savefig("out.png", dpi=100)
